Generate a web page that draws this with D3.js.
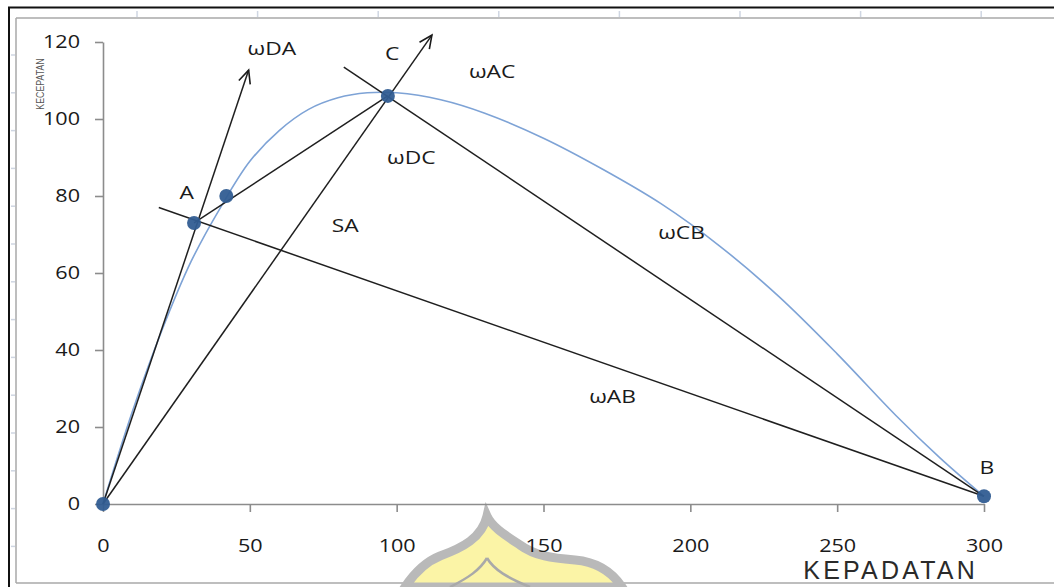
<!DOCTYPE html>
<html>
<head>
<meta charset="utf-8">
<script src="https://cdn.jsdelivr.net/npm/d3@7"></script>
<style>
  html, body { margin: 0; padding: 0; background: #fff; }
  svg { display: block; }
  .lbl { font-family: "Open Sans", "Liberation Sans", sans-serif; fill: #1a1a1a; }
</style>
</head>
<body>
<svg id="chart" width="1054" height="587"></svg>
<script>
// ---------- data ----------
const xTicks = [0, 50, 100, 150, 200, 250, 300];
const yTicks = [0, 20, 40, 60, 80, 100, 120];

// speed-density curve (blue)
const curveK = [0, 10, 20, 30, 40, 50, 60, 70, 80, 90, 100, 115, 130, 150, 170, 190, 210, 230, 250, 270, 285, 300];
const curveV = [0, 24, 45, 63, 77, 89, 97, 102.5, 105.5, 106.8, 106.8, 105, 101.5, 95, 87, 78, 67, 54, 39, 23, 12, 2];

// marked points: O, A, (intermediate), C, B
const pointK = [0, 31, 42, 97, 300];
const pointV = [0, 73, 80, 106, 2];

// straight lines (start k, start v, end k, end v, arrow at end?)
const lineStartK = [0, 0, 31, 19, 82];
const lineStartV = [0, 0, 73, 77, 113.5];
const lineEndK   = [49.6, 112, 97, 300, 300];
const lineEndV   = [112.7, 121.8, 106, 2, 2];
const lineArrow  = [true, true, false, false, false];

// annotation texts and their anchor in data units
const noteText = ["ωDA", "C", "ωAC", "ωDC", "A", "SA", "ωCB", "ωAB", "B"];
const noteK    = [57.5, 98.5, 132.5, 105, 28.5, 82.5, 197, 173.5, 301];
const noteV    = [118.5, 117, 112.5, 90, 81, 72.5, 70.5, 28, 9.5];

const xTitle = "KEPADATAN";
const yTitle = "KECEPATAN";

// ---------- drawing ----------
const svg = d3.select("#chart");
const W = 1054, H = 587;
const x = d3.scaleLinear().domain([0, 300]).range([103, 984]);
const y = d3.scaleLinear().domain([0, 120]).range([504, 42]);
const SX = 1.2; // horizontal text stretch seen in the reference

// frame decoration
const frame = svg.append("g");
frame.append("line").attr("x1", 8).attr("x2", W).attr("y1", 7.5).attr("y2", 7.5).attr("stroke", "#111").attr("stroke-width", 2);
frame.append("line").attr("x1", 9).attr("x2", 9).attr("y1", 7).attr("y2", H).attr("stroke", "#111").attr("stroke-width", 2);
frame.append("line").attr("x1", 16).attr("x2", W).attr("y1", 18).attr("y2", 18).attr("stroke", "#a8a8a8").attr("stroke-width", 1.5);
frame.append("line").attr("x1", 16).attr("x2", 16).attr("y1", 18).attr("y2", 583).attr("stroke", "#a8a8a8").attr("stroke-width", 1.5);
frame.append("line").attr("x1", 16).attr("x2", W).attr("y1", 583).attr("y2", 583).attr("stroke", "#a8a8a8").attr("stroke-width", 1.5);
const topTicks = d3.range(137, W, 120.6);
frame.selectAll(".tt").data(topTicks).enter().append("line")
  .attr("x1", d => d).attr("x2", d => d).attr("y1", 11).attr("y2", 17)
  .attr("stroke", "#cfd6e2").attr("stroke-width", 1.5);
const leftTicks = d3.range(55, 583, 37.8);
frame.selectAll(".lt").data(leftTicks).enter().append("line")
  .attr("x1", 11).attr("x2", 15).attr("y1", d => d).attr("y2", d => d)
  .attr("stroke", "#cfd6e2").attr("stroke-width", 1.5);

// watermark (faint logo at the bottom)
const wm = svg.append("g");
wm.append("path")
  .attr("d", "M487,516 C482,538 462,548 440,556 C425,562 415,572 405,587 L622,587 C612,572 598,562 575,560 C552,558 535,556 520,545 C505,535 492,527 487,516 Z")
  .attr("fill", "#fbf4a6").attr("stroke", "#b9b9b9").attr("stroke-width", 9).attr("stroke-linejoin", "miter");
wm.append("path")
  .attr("d", "M487,558 C480,570 468,578 450,587 M487,558 C494,570 508,578 530,587")
  .attr("fill", "none").attr("stroke", "#a9a9a9").attr("stroke-width", 2.5);

// axes
const yAxis = d3.axisLeft(y).tickValues(yTicks).tickSize(8).tickPadding(15).tickSizeOuter(0);
const gy = svg.append("g").attr("transform", "translate(103,0)").call(yAxis);
const xAxis = d3.axisBottom(x).tickValues(xTicks).tickSize(8).tickPadding(27).tickSizeOuter(0);
const gx = svg.append("g").attr("transform", "translate(0,504)").call(xAxis);
[gx, gy].forEach(g => {
  g.select(".domain").attr("stroke", "#8c8c8c").attr("stroke-width", 1.6);
  g.selectAll(".tick line").attr("stroke", "#8c8c8c").attr("stroke-width", 1.6);
  g.selectAll(".tick text").attr("class", "lbl").attr("font-size", 18).attr("fill", "#1a1a1a");
});
gx.selectAll(".tick text").attr("transform", `scale(${SX},1)`);
gy.selectAll(".tick text").attr("x", -23 / SX).attr("transform", `scale(${SX},1)`);

// y title (tiny, rotated)
svg.append("text")
  .attr("transform", `translate(44,84) rotate(-90) scale(0.8,1)`)
  .attr("text-anchor", "middle")
  .attr("font-family", "Liberation Sans Narrow, Liberation Sans, sans-serif")
  .attr("font-size", 11).attr("fill", "#555")
  .text(yTitle);

// x title
svg.append("text")
  .attr("x", 978).attr("y", 579)
  .attr("text-anchor", "end")
  .attr("font-family", "Liberation Sans, Arial, sans-serif")
  .attr("font-size", 25).attr("letter-spacing", 3.2).attr("fill", "#2a2a2a")
  .text(xTitle);

// arrow marker
svg.append("defs").append("marker")
  .attr("id", "arr").attr("markerUnits", "userSpaceOnUse")
  .attr("viewBox", "-14 -8 16 16").attr("markerWidth", 16).attr("markerHeight", 16)
  .attr("refX", 0).attr("refY", 0).attr("orient", "auto")
  .append("path").attr("d", "M-13,-6 L0,0 L-13,6")
  .attr("fill", "none").attr("stroke", "#1a1a1a").attr("stroke-width", 1.6);

// blue curve
const curveData = curveK.map((k, i) => [k, curveV[i]]);
svg.append("path")
  .datum(curveData)
  .attr("d", d3.line().x(d => x(d[0])).y(d => y(d[1])).curve(d3.curveCatmullRom.alpha(0.5)))
  .attr("fill", "none").attr("stroke", "#7ea3d6").attr("stroke-width", 1.6);

// straight lines
const lines = lineStartK.map((k, i) => ({ k1: k, v1: lineStartV[i], k2: lineEndK[i], v2: lineEndV[i], arrow: lineArrow[i] }));
svg.selectAll(".seg").data(lines).enter().append("line")
  .attr("x1", d => x(d.k1)).attr("y1", d => y(d.v1))
  .attr("x2", d => x(d.k2)).attr("y2", d => y(d.v2))
  .attr("stroke", "#1f1f1f").attr("stroke-width", 1.5)
  .attr("marker-end", d => d.arrow ? "url(#arr)" : null);

// points
const pts = pointK.map((k, i) => [k, pointV[i]]);
svg.selectAll(".pt").data(pts).enter().append("circle")
  .attr("cx", d => x(d[0])).attr("cy", d => y(d[1])).attr("r", 7)
  .attr("fill", "#325d92").attr("fill-opacity", 0.95);

// annotations
noteText.forEach((t, i) => {
  svg.append("text").attr("class", "lbl")
    .attr("transform", `translate(${x(noteK[i])},${y(noteV[i])}) scale(${SX},1)`)
    .attr("text-anchor", "middle").attr("dy", "0.36em")
    .attr("font-size", 19)
    .text(t);
});
</script>
</body>
</html>
